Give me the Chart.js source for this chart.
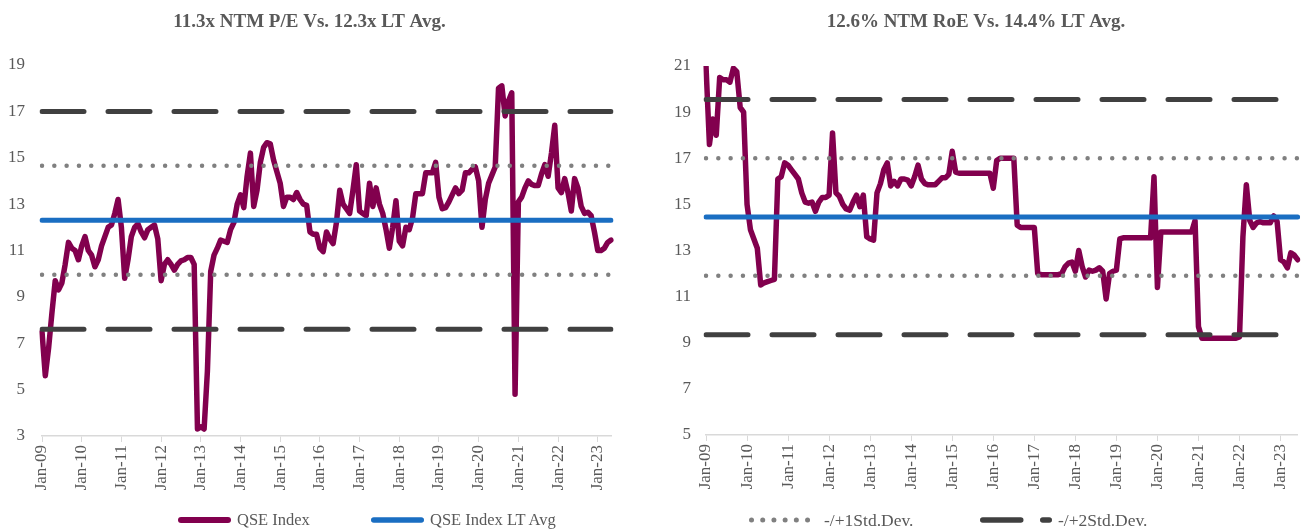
<!DOCTYPE html>
<html>
<head>
<meta charset="utf-8">
<script src="https://cdn.jsdelivr.net/npm/chart.js@4.4.1/dist/chart.umd.min.js"></script>
<style>
  html, body { margin: 0; padding: 0; background: #fff; }
  #wrap { position: relative; width: 1304px; height: 531px; overflow: hidden; }
  .panel { position: absolute; top: 0; height: 531px; }
  .legend-item { position: absolute; top: 510px; display: flex; align-items: center; gap: 6px; line-height: 20px;
                 font-family: "Liberation Serif", "Times New Roman", serif; color: #595959; white-space: nowrap; }
  .legend-item svg { display: block; }
</style>
</head>
<body>
<div id="wrap">
  <div class="panel" style="left:0;width:650px"><canvas id="chartPE" width="650" height="531"></canvas></div>
  <div class="panel" style="left:650px;width:654px"><canvas id="chartROE" width="654" height="531"></canvas></div>
</div>
<script>
// Monthly labels Jan-09 .. Jun-23
const MONTHS = ['Jan','Feb','Mar','Apr','May','Jun','Jul','Aug','Sep','Oct','Nov','Dec'];
const MONTH_LABELS = [];
for (let i = 0; i < 174; i++) {
  MONTH_LABELS.push(MONTHS[i % 12] + '-' + String(9 + Math.floor(i / 12)).padStart(2, '0'));
}

// QSE NTM P/E (x)
const PE_VALUES = [
  7.5, 5.6, 6.8, 8.3, 9.7, 9.3, 9.6, 10.4, 11.35, 11.1, 11.0, 10.6,
  11.2, 11.6, 11.0, 10.8, 10.3, 10.6, 11.2, 11.6, 12.0, 12.1, 12.6, 13.2,
  12.0, 9.8, 10.6, 11.6, 12.0, 12.15, 11.8, 11.55, 11.9, 12.0, 12.1, 11.5,
  9.7, 10.4, 10.6, 10.4, 10.15, 10.4, 10.55, 10.6, 10.7, 10.7, 10.4, 3.3,
  3.4, 3.3, 5.8, 10.1, 10.8, 11.1, 11.45, 11.4, 11.35, 11.9, 12.2, 13.0,
  13.4, 12.85, 14.2, 15.2, 12.9, 13.6, 14.8, 15.45, 15.65, 15.6, 14.9, 14.4,
  13.9, 12.9, 13.3, 13.3, 13.2, 13.5, 13.2, 13.0, 12.95, 11.8, 11.7, 11.7,
  11.1, 10.95, 11.8, 11.5, 11.3, 12.2, 13.6, 13.0, 12.8, 12.6, 13.6, 14.7,
  12.7, 12.6, 12.5, 13.9, 12.9, 13.7, 13.0, 12.6, 11.9, 11.1, 12.0, 13.15,
  11.4, 11.2, 12.0, 11.9, 12.4, 13.45, 13.45, 13.45, 14.35, 14.35, 14.35, 14.8,
  13.3, 12.8, 12.85, 13.1, 13.4, 13.7, 13.45, 13.6, 14.35, 14.35, 14.5, 14.6,
  14.0, 12.0, 13.2, 13.9, 14.25, 14.6, 18.0, 18.1, 16.8, 17.45, 17.8, 4.8,
  13.1, 13.3, 13.7, 14.0, 13.85, 13.8, 13.8, 14.3, 14.7, 14.2, 15.2, 16.4,
  13.7, 13.5, 14.1, 13.5, 12.7, 14.1, 13.7, 12.9, 12.6, 12.65, 12.5, 11.8,
  11.0, 11.0, 11.1, 11.35, 11.45
];
const PE_AVG = 12.3;
const PE_STD1 = [9.95, 14.65];
const PE_STD2 = [7.6, 17.0];

// QSE NTM RoE (%)
const ROE_VALUES = [
  21.0, 17.6, 18.7, 18.0, 20.5, 20.4, 20.4, 20.3, 20.9, 20.75, 19.2, 19.0,
  15.0, 13.9, 13.5, 13.1, 11.5, 11.6, 11.65, 11.7, 11.75, 16.1, 16.2, 16.8,
  16.7, 16.5, 16.3, 16.1, 15.5, 15.1, 15.05, 15.1, 14.7, 15.1, 15.3, 15.3,
  15.4, 18.1, 15.5, 15.35, 15.0, 14.8, 14.75, 15.1, 15.4, 14.9, 15.4, 13.6,
  13.5, 13.45, 15.5, 15.9, 16.5, 16.8, 15.8, 16.0, 15.8, 16.1, 16.1, 16.05,
  15.8, 16.2, 16.7, 16.1, 15.9, 15.85, 15.85, 15.85, 16.0, 16.15, 16.15, 16.3,
  17.3, 16.4, 16.35, 16.35, 16.35, 16.35, 16.35, 16.35, 16.35, 16.35, 16.35, 16.35,
  15.7, 16.9, 17.0, 17.0, 17.0, 17.0, 17.0, 14.1, 14.0, 14.0, 14.0, 14.0,
  14.0, 12.0, 11.95, 11.95, 11.95, 11.95, 11.95, 11.95, 12.0, 12.3, 12.45, 12.5,
  12.1, 13.0, 12.3, 11.85, 12.15, 12.1, 12.15, 12.25, 12.1, 10.9, 12.0, 12.1,
  12.15, 13.5, 13.55, 13.55, 13.55, 13.55, 13.55, 13.55, 13.55, 13.55, 13.55, 16.2,
  11.4, 13.8, 13.8, 13.8, 13.8, 13.8, 13.8, 13.8, 13.8, 13.8, 13.8, 14.3,
  9.7, 9.2, 9.2, 9.2, 9.2, 9.2, 9.2, 9.2, 9.2, 9.2, 9.2, 9.2,
  9.25, 13.6, 15.85, 14.3, 14.0, 14.2, 14.25, 14.2, 14.2, 14.2, 14.5, 14.25,
  12.6, 12.5, 12.25, 12.9, 12.8, 12.6
];
const ROE_AVG = 14.45;
const ROE_STD1 = [11.9, 17.0];
const ROE_STD2 = [9.35, 19.55];

const TEXT_COLOR = '#595959';
const MAROON = '#82004e';
const BLUE = '#1a6ec2';
const DASH_GREY = '#404040';
const DOT_GREY = '#808080';
const FONT = '"Liberation Serif", "Times New Roman", serif';

Chart.defaults.font.family = FONT;
Chart.defaults.color = TEXT_COLOR;

const DOT_STYLE = { borderColor: DOT_GREY, borderWidth: 4.5, borderDash: [0.01, 12.3], legendDash: [0.01, 11.2], order: 1 };
const DASH_STYLE = { borderColor: DASH_GREY, borderWidth: 5, borderDash: [42, 24], legendDash: [38, 22], order: 1 };

function makeChart(id, o) {
  const labels = MONTH_LABELS.slice(0, o.series.length);
  const flat = v => labels.map(() => v);
  const datasets = [
    { label: 'QSE Index', data: o.series, borderColor: MAROON, borderWidth: 5.5, order: 3 },
    { label: 'QSE Index LT Avg', data: flat(o.avg), borderColor: BLUE, borderWidth: 5, order: 2 },
    { label: '-/+1Std.Dev.', data: flat(o.std1[1]), ...DOT_STYLE },
    { label: '-/+1Std.Dev.', data: flat(o.std1[0]), ...DOT_STYLE },
    { label: '-/+2Std.Dev.', data: flat(o.std2[1]), ...DASH_STYLE },
    { label: '-/+2Std.Dev.', data: flat(o.std2[0]), ...DASH_STYLE },
  ];
  return new Chart(document.getElementById(id), {
    type: 'line',
    data: { labels, datasets },
    options: {
      responsive: false, animation: false, events: [],
      layout: { padding: { left: o.padLeft, right: o.padRight, top: 0, bottom: 0 } },
      elements: {
        point: { radius: 0 },
        line: { tension: 0, borderJoinStyle: 'round', borderCapStyle: 'round' },
      },
      plugins: {
        legend: { display: false },
        tooltip: { enabled: false },
        title: {
          display: true, text: o.title, color: TEXT_COLOR,
          font: { size: 19, weight: 'bold' },
          padding: { top: 11, bottom: o.titleGap },
        },
      },
      scales: {
        x: {
          afterBuildTicks: ax => { ax.ticks = ax.ticks.filter(t => t.value % 12 === 0); },
          afterFit: ax => { ax.height = o.xHeight; },
          ticks: { autoSkip: false, maxRotation: 90, minRotation: 90, padding: 3, font: { size: 17 }, color: TEXT_COLOR },
          grid: { drawOnChartArea: false, color: '#d9d9d9', tickLength: 6, lineWidth: 1 },
          border: { color: '#d9d9d9', width: 1.5 },
        },
        y: {
          min: o.yMin, max: o.yMax,
          afterFit: ax => { ax.width = o.yWidth; },
          ticks: { stepSize: 2, padding: o.yPad, font: { size: 17 }, color: TEXT_COLOR },
          grid: { display: false, drawTicks: false },
          border: { display: false },
        },
      },
    },
  });
}

// HTML legend: one svg line per entry, stroked like its dataset
function renderLegend(chart, picks, fontSize) {
  const wrap = document.getElementById('wrap');
  picks.forEach(([idx, left, len]) => {
    const ds = chart.data.datasets[idx];
    const sw = ds.borderWidth + 0.5;
    const dashArr = ds.legendDash || ds.borderDash;
    const dash = dashArr ? dashArr.join(' ') : 'none';
    const item = document.createElement('div');
    item.className = 'legend-item';
    item.style.left = left + 'px';
    item.style.fontSize = fontSize + 'px';
    item.innerHTML =
      `<svg width="${len}" height="10"><line x1="${sw / 2}" y1="5" x2="${len - sw / 2}" y2="5" ` +
      `stroke="${ds.borderColor}" stroke-width="${sw}" stroke-linecap="round" stroke-dasharray="${dash}"/></svg>`;
    const txt = document.createElement('span');
    txt.textContent = ds.label;
    item.appendChild(txt);
    wrap.appendChild(item);
  });
}

const chartPE = makeChart('chartPE', {
  title: '11.3x NTM P/E Vs. 12.3x LT Avg.',
  series: PE_VALUES, avg: PE_AVG, std1: PE_STD1, std2: PE_STD2,
  yMin: 3, yMax: 19, padLeft: 8, padRight: 39, yWidth: 34, yPad: 17,
  titleGap: 31.2, xHeight: 95,
});
const chartROE = makeChart('chartROE', {
  title: '12.6% NTM RoE Vs. 14.4% LT Avg.',
  series: ROE_VALUES, avg: ROE_AVG, std1: ROE_STD1, std2: ROE_STD2,
  yMin: 5, yMax: 21, padLeft: 0, padRight: 2, yWidth: 56, yPad: 15,
  titleGap: 32.2, xHeight: 96,
});

renderLegend(chartPE, [[0, 178, 53], [1, 371, 53]], 16.5);
renderLegend(chartROE, [[2, 749, 69], [4, 980, 72]], 17.5);
</script>
</body>
</html>
